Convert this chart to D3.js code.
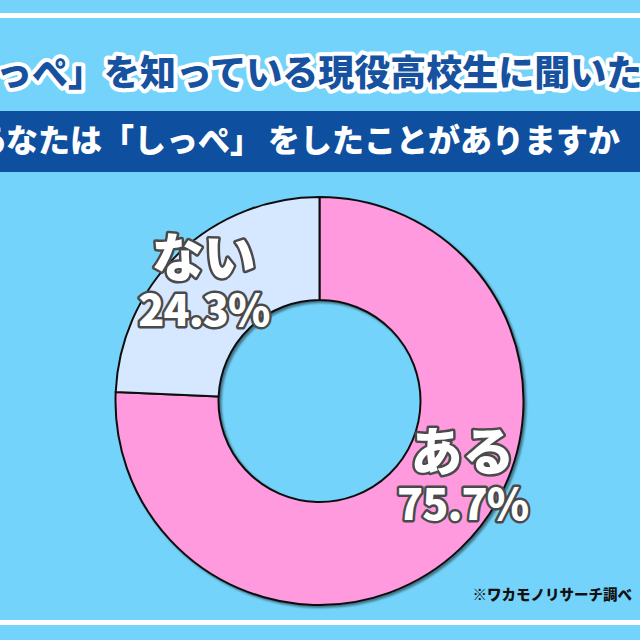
<!DOCTYPE html>
<html><head><meta charset="utf-8">
<script src="https://cdn.jsdelivr.net/npm/d3@7"></script>
<style>
html,body{margin:0;padding:0;background:#74d3fa;}
svg{display:block;}
</style></head>
<body>
<script>
const title = "「しっぺ」を知っている現役高校生に聞いた";
const questionA = "あなたは「しっぺ」";
const questionB = "をしたことがありますか";
const questionC = "？";
const source = "※ワカモノリサーチ調べ";
const categories = ["ある", "ない"];
const values = [75.7, 24.3];
const colors = ["#ff9ade", "#d6e8ff"];

const W = 640, H = 640;
const svg = d3.select("body").append("svg").attr("width", W).attr("height", H);
const font = "'Noto Sans CJK JP', 'Noto Sans', sans-serif";

svg.append("rect").attr("width", W).attr("height", H).attr("fill", "#74d3fa");
// white rules
svg.append("rect").attr("x", 0).attr("y", 13).attr("width", W).attr("height", 5).attr("fill", "#ffffff");
svg.append("rect").attr("x", 0).attr("y", 620).attr("width", W).attr("height", 5).attr("fill", "#ffffff");

// title (wider than the frame, clipped at both edges as in the reference)
svg.append("text").attr("x", -76).attr("y", 86)
  .attr("text-anchor", "start").attr("font-family", font).attr("font-weight", 900)
  .attr("font-size", 36).attr("fill", "#1752a0")
  .attr("stroke", "#ffffff").attr("stroke-width", 8).attr("stroke-linejoin", "round")
  .attr("paint-order", "stroke")
  .text(title);

// band
svg.append("rect").attr("x", 0).attr("y", 111).attr("width", W).attr("height", 61).attr("fill", "#0e4f9f");
const q = svg.append("text").attr("x", -26).attr("y", 152)
  .attr("text-anchor", "start").attr("font-family", font).attr("font-weight", 900)
  .attr("font-size", 32).attr("fill", "#ffffff");
q.append("tspan").text(questionA);
q.append("tspan").attr("dx", 6).text(questionB);
q.append("tspan").attr("dx", 16).text(questionC);

// donut
const cx = 319.5, cy = 401, R = 204, r = 101;
const g = svg.append("g").attr("transform", `translate(${cx},${cy})`);
const pie = d3.pie().sort(null).value(d => d)(values);
const arc = d3.arc().innerRadius(r).outerRadius(R);

const defs = svg.append("defs");
const f = defs.append("filter").attr("id", "sh").attr("x", "-20%").attr("y", "-20%").attr("width", "140%").attr("height", "140%");
f.append("feDropShadow").attr("dx", 2).attr("dy", 2).attr("stdDeviation", 1.2).attr("flood-color", "#000").attr("flood-opacity", 0.45);

const gs = g.append("g").attr("filter", "url(#sh)");
gs.selectAll("path").data(pie).join("path")
  .attr("d", arc)
  .attr("fill", (d, i) => colors[i])
  .attr("stroke", "#111").attr("stroke-width", 2).attr("stroke-linejoin", "round");

// labels
const labelArc = [
  { ang: 118 * Math.PI / 180, rad: 162 },
  { ang: -44.5 * Math.PI / 180, rad: 165 }
];
pie.forEach((d, i) => {
  const la = labelArc[i];
  const x = la.rad * Math.sin(la.ang), y = -la.rad * Math.cos(la.ang);
  const t = g.append("text").attr("transform", `translate(${x},${y})`)
    .attr("text-anchor", "middle").attr("font-family", font).attr("font-weight", 900)
    .attr("fill", "#ffffff").attr("stroke", "#4a4a4a").attr("stroke-width", 5)
    .attr("stroke-linejoin", "round").attr("paint-order", "stroke");
  t.append("tspan").attr("x", 0).attr("y", -6).attr("font-size", 52).text(categories[i]);
  t.append("tspan").attr("x", 0).attr("y", 43).attr("font-size", 43).attr("letter-spacing", -1)
    .text(d3.format(".1f")(values[i]) + "%");
});

// source
svg.append("text").attr("x", 632).attr("y", 600).attr("text-anchor", "end")
  .attr("font-family", font).attr("font-weight", 900).attr("font-size", 14.5).attr("fill", "#111")
  .text(source);
</script>
</body></html>
